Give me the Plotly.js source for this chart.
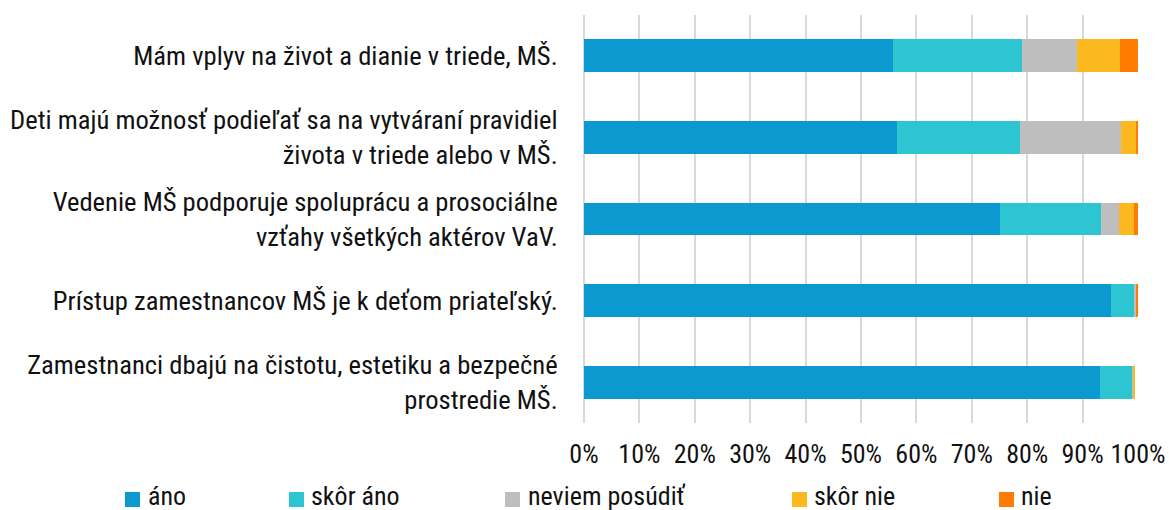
<!DOCTYPE html>
<html>
<head>
<meta charset="utf-8">
<script src="https://cdn.plot.ly/plotly-3.0.1.min.js"></script>
<style>html,body{margin:0;padding:0;background:#fff;}#chart{width:1169px;height:510px;}</style>
</head>
<body>
<div id="chart"></div>
<script>
// ---- data ----
var categories = [
  "Mám vplyv na život a dianie v triede, MŠ.",
  "Deti majú možnosť podieľať sa na vytváraní pravidiel<br>života v triede alebo v MŠ.",
  "Vedenie MŠ podporuje spoluprácu a prosociálne<br>vzťahy všetkých aktérov VaV.",
  "Prístup zamestnancov MŠ je k deťom priateľský.",
  "Zamestnanci dbajú na čistotu, estetiku a bezpečné<br>prostredie MŠ."
];
var seriesNames = ["áno", "skôr áno", "neviem posúdiť", "skôr nie", "nie"];
var ano      = [55.7, 56.5, 75.0, 95.1, 93.1];
var skorAno  = [23.4, 22.2, 18.3, 4.1, 5.9];
var neviem   = [9.8, 18.3, 3.3, 0.4, 0.1];
var skorNie  = [7.9, 2.7, 2.6, 0.1, 0.3];
var nie      = [3.2, 0.3, 0.8, 0.4, 0.0];
var tickVals = [0, 10, 20, 30, 40, 50, 60, 70, 80, 90, 100];
var tickText = ["0%", "10%", "20%", "30%", "40%", "50%", "60%", "70%", "80%", "90%", "100%"];

// ---- style ----
var colors = ["#0C99D0", "#2CC5D1", "#BEBEBE", "#FBB91F", "#FF7C00"];
var FONT = "'Roboto Condensed', 'Liberation Sans Narrow', 'DejaVu Sans Condensed', Roboto, sans-serif";
var values = [ano, skorAno, neviem, skorNie, nie];

var traces = values.map(function (v, i) {
  return {
    type: "bar", orientation: "h",
    x: v, y: categories, name: seriesNames[i],
    marker: { color: colors[i], line: { width: 0 } },
    hoverinfo: "x+name"
  };
});

// plot area in pixels
var L = 584, R = 1138, T = 15, B = 423;
function px(x) { return (x - L) / (R - L); }
function py(y) { return (B - y) / (B - T); }

var legendSq = [125, 289, 505, 792, 999];
var legendTx = [146, 309, 526, 812, 1019];
var shapes = [], annotations = [];
seriesNames.forEach(function (n, i) {
  shapes.push({ type: "rect", xref: "paper", yref: "paper",
    x0: px(legendSq[i]), x1: px(legendSq[i] + 15), y0: py(507), y1: py(492),
    fillcolor: colors[i], line: { width: 0 } });
  annotations.push({ xref: "paper", yref: "paper", x: px(legendTx[i]), y: py(496),
    xanchor: "left", yanchor: "middle", showarrow: false, text: n,
    font: { family: FONT, size: 26, color: "#111" } });
});

var layout = {
  width: 1169, height: 510,
  margin: { l: L, r: 1169 - R, t: T, b: 510 - B, pad: 0 },
  paper_bgcolor: "#fff", plot_bgcolor: "#fff",
  barmode: "stack", bargap: 0.6,
  showlegend: false,
  font: { family: FONT, size: 26, color: "#111" },
  xaxis: {
    range: [0, 100], tickvals: tickVals, ticktext: tickText,
    showgrid: true, gridcolor: "#D9D9D9", gridwidth: 2,
    zeroline: true, zerolinecolor: "#D9D9D9", zerolinewidth: 2,
    showline: false, ticks: "outside", ticklen: 8, tickcolor: "rgba(0,0,0,0)",
    tickfont: { family: FONT, size: 26, color: "#111" }, fixedrange: true
  },
  yaxis: {
    autorange: "reversed", showgrid: false, zeroline: false, showline: false,
    ticks: "outside", ticklen: 20, tickcolor: "rgba(0,0,0,0)",
    tickfont: { family: FONT, size: 26.6, color: "#111" }, fixedrange: true
  },
  shapes: shapes, annotations: annotations
};

Plotly.newPlot("chart", traces, layout, { displayModeBar: false, staticPlot: true });
</script>
</body>
</html>
